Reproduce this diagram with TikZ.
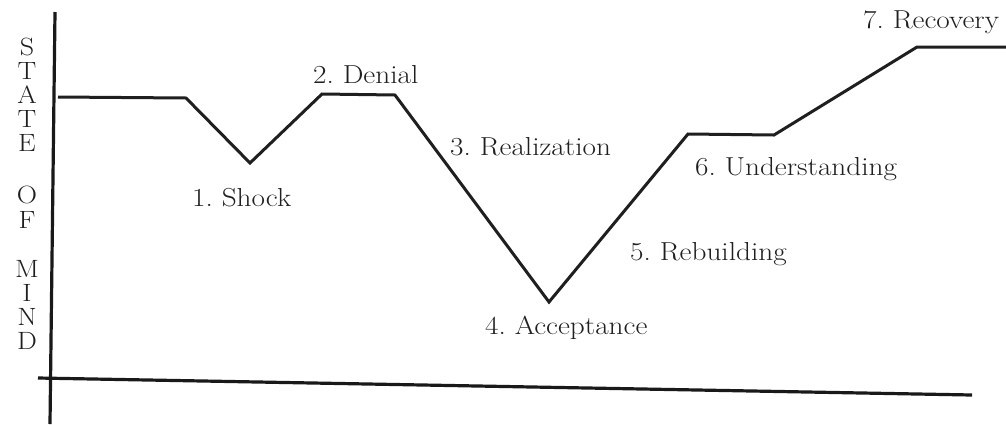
\documentclass[tikz,border=0pt]{standalone}
\begin{document}
\frenchspacing
\begin{tikzpicture}[x=1pt,y=-1pt,
  ink/.style={draw=black!88, line width=3pt, line join=miter},
  axisline/.style={draw=black!90, line width=3.2pt},
  lbl/.style={font=\fontsize{26}{30}\selectfont, text=black!88, inner sep=0pt, xscale=1.125, anchor=base west},
  vlet/.style={font=\fontsize{25}{27}\selectfont, text=black!88, inner sep=0pt, xscale=1.12}]
\useasboundingbox (0,0) rectangle (1006,424);
% axes
\coordinate (vt) at (55,12);
\coordinate (vb) at (50,424);
\coordinate (hl) at (38,378);
\coordinate (hr) at (972,395);
\draw[axisline] (vt) -- (vb);
\draw[axisline] (hl) -- (hr);
% curve
\coordinate (p0) at (58,97);
\coordinate (p1) at (186,98);
\coordinate (p2) at (250,163);
\coordinate (p3) at (322,94);
\coordinate (p4) at (395,95);
\coordinate (p5) at (549,302);
\coordinate (p6) at (688,134);
\coordinate (p7) at (774,135);
\coordinate (p8) at (917,47);
\coordinate (p9) at (1006,47);
\draw[ink] (p0) -- (p1) -- (p2) -- (p3) -- (p4) -- (p5) -- (p6) -- (p7) -- (p8) -- (p9);
% labels
\node[lbl] (shock) at (192,206) {1. Shock};
\node[lbl] (denial) at (313,83) {2. Denial};
\node[lbl] (real) at (450,155) {3. Realization};
\node[lbl] (acc) at (485,334) {4. Acceptance};
\node[lbl] (reb) at (630,260) {5. Rebuilding};
\node[lbl] (und) at (695,175) {6. Understanding};
\node[lbl] (rec) at (863,28) {7. Recovery};
% vertical axis title
\node[vlet] (s1) at (27,47) {S};
\node[vlet] (s2) at (27,71) {T};
\node[vlet] (s3) at (27,95) {A};
\node[vlet] (s4) at (27,119) {T};
\node[vlet] (s5) at (27,143) {E};
\node[vlet] (s6) at (27,195) {O};
\node[vlet] (s7) at (27,220) {F};
\node[vlet] (s8) at (27,269) {M};
\node[vlet] (s9) at (27,293) {I};
\node[vlet] (s10) at (27,317) {N};
\node[vlet] (s11) at (27,341) {D};
\end{tikzpicture}
\end{document}
